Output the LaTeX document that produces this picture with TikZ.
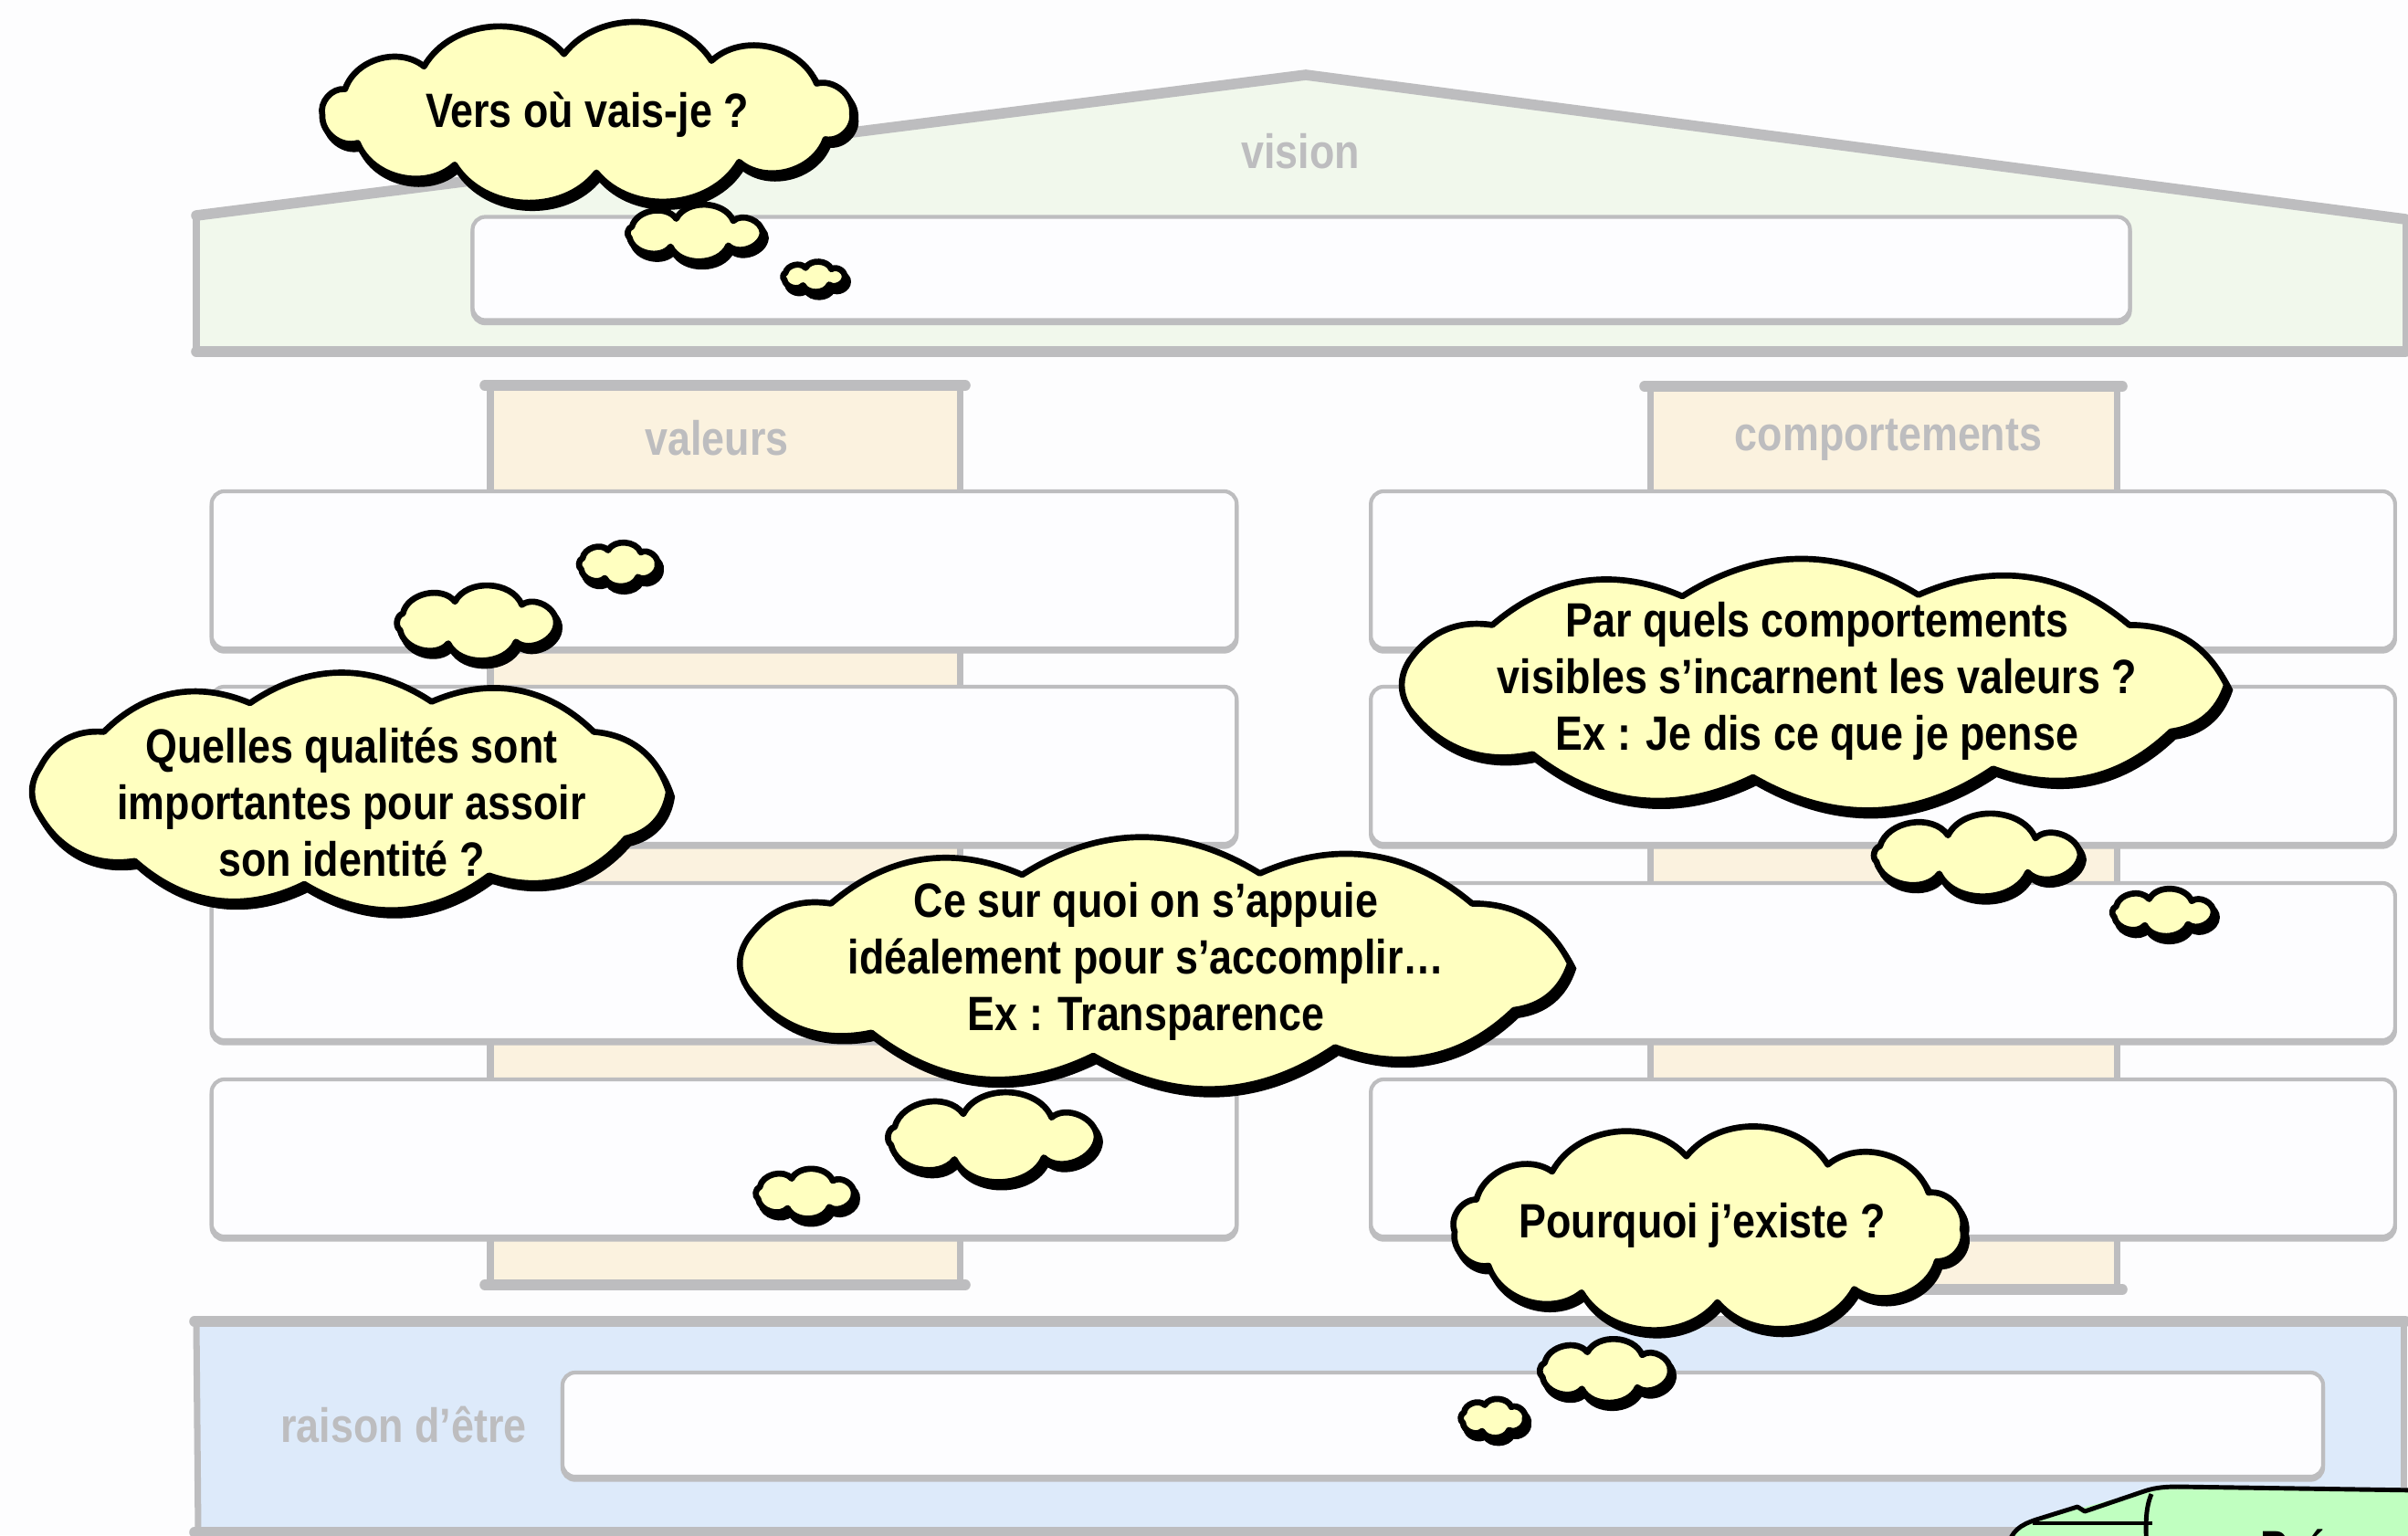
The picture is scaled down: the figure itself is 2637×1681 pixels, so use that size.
\documentclass[tikz,border=0pt]{standalone}
\usepackage{fontspec}
\setmainfont{Liberation Sans}
\newfontfamily\cloudfont{Liberation Sans Bold}[FakeStretch=0.85]
\usetikzlibrary{positioning}
\usetikzlibrary{calc}

\definecolor{paper}{HTML}{FDFDFE}
\definecolor{linegray}{HTML}{BDBDBF}
\definecolor{visiongreen}{HTML}{F1F8EC}
\definecolor{pillarbeige}{HTML}{FBF2DF}
\definecolor{raisonblue}{HTML}{DDEAFA}
\definecolor{slotwhite}{HTML}{FDFDFF}
\definecolor{cloudyellow}{HTML}{FFFFC0}
\definecolor{notegreen}{HTML}{C0FFC0}

\tikzset{
	wall/.style={draw=linegray, line width=2pt},
	beam/.style={draw=linegray, line width=3.3pt, line cap=round},
	slot/.style={draw=linegray, fill=slotwhite, line width=1.2pt, rounded corners=4pt,
		preaction={draw=linegray, line width=1.2pt, transform canvas={yshift=-1pt}}},
	tag/.style={text=linegray, font=\cloudfont\fontsize{15}{18}\selectfont},
	thought/.style={align=center, inner sep=0pt, font=\cloudfont\fontsize{15}{17.6}\selectfont},
	cloudedge/.style={draw=black, fill=cloudyellow, line width=1.9pt, line join=round,
		preaction={draw=black, fill=black, line width=1.9pt, transform canvas={shift={(1pt,-1.6pt)}}}},
	noteline/.style={draw=black, line width=1.4pt, line join=round}
}

% cloud round a centre: centre, half width, half height, bend, angles
\newcommand{\cloudshape}[5]{%
	\path[cloudedge] ($(#1)+(0:#2 and #3)$)
		\foreach \a in {#5} { to[bend right=#4] ($(#1)+(\a:#2 and #3)$) } -- cycle;
}

\begin{document}
\begin{tikzpicture}[x=0.01cm, y=-0.01cm]
			% Frame of the picture
			\useasboundingbox (0,0) rectangle (2637,1681);
			\fill[paper] (0,0) rectangle (2637,1681);
			\clip (0,0) rectangle (2637,1681);

			% Define the corners of the roof
			\coordinate (eaveL) at (215,236);
			\coordinate (ridge) at (1430,82);
			\coordinate (eaveR) at (2634,240);
			\coordinate (baseL) at (215,385);
			\coordinate (baseR) at (2634,385);

			% Draw the roof
			\fill[visiongreen] (eaveL) -- (ridge) -- (eaveR) -- (baseR) -- (baseL) -- cycle;
			\draw[wall] (eaveL) -- (baseL);
			\draw[wall] (eaveR) -- (baseR);
			\draw[beam] (eaveL) -- (ridge) -- (eaveR);
			\draw[beam] (baseL) -- (baseR);
			\node[slot, minimum width=18.14cm, minimum height=1.13cm] (visionslot) at (1425,294) {};
			\node[tag] (visiontag) at (1424,166) {vision};

			% Draw the two pillars
			\foreach \xl/\xr/\yt/\yb in {537/1051/422/1407, 1807/2318/423/1412}
			{
				\fill[pillarbeige] (\xl,\yt) rectangle (\xr,\yb);
				\draw[wall] (\xl,\yt) -- (\xl,\yb);
				\draw[wall] (\xr,\yt) -- (\xr,\yb);
				\draw[beam] (\xl-6,\yt) -- (\xr+6,\yt);
				\draw[beam] (\xl-6,\yb) -- (\xr+6,\yb);
			}
			\node[tag] (valtag) at (785,480) {valeurs};
			\node[tag] (comptag) at (2068,482) {comportements};

			% Draw the rows of the pillars
			\foreach \i/\y in {1/624, 2/838, 3/1053, 4/1268}
			{
				\node[slot, minimum width=11.22cm, minimum height=1.72cm] (val\i) at (793,\y) {};
				\node[slot, minimum width=11.21cm, minimum height=1.72cm] (comp\i) at (2062,\y) {};
			}

			% Draw the base
			\fill[raisonblue] (215,1447) rectangle (2634,1678);
			\draw[wall] (215,1447) -- (217,1678);
			\draw[wall] (2632,1447) -- (2632,1678);
			\draw[beam] (213,1447) -- (2634,1447);
			\draw[beam] (213,1678) -- (2640,1678);
			\node[slot, minimum width=19.27cm, minimum height=1.14cm] (raisonslot) at (1580,1560) {};
			\node[tag] (raisontag) at (442,1560) {raison d’être};

			% Draw the note in the corner
			\fill[notegreen] (2198,1695) .. controls (2203,1676) and (2212,1670) .. (2230,1664)
				-- (2345,1634) .. controls (2356,1630) and (2366,1628) .. (2385,1628) -- (2650,1632) -- (2650,1695) -- cycle;
			\draw[noteline] (2198,1695) .. controls (2203,1676) and (2212,1670) .. (2230,1664)
				-- (2275,1650) -- (2283,1655) -- (2345,1634) .. controls (2356,1630) and (2366,1628) .. (2385,1628) -- (2650,1632);
			\draw[noteline] (2226,1668) -- (2357,1668);
			\draw[noteline] (2356,1636) .. controls (2350,1650) and (2349,1668) .. (2351,1695);
			\node[anchor=north west, inner sep=0pt, font=\cloudfont\fontsize{15}{18}\selectfont] (notetext) at (2475,1674) {Pré};

			% Define the centres of the thought clouds
			\coordinate (versc) at (643,124);
			\coordinate (versa) at (760,255);
			\coordinate (versb) at (891,303);
			\coordinate (qualc) at (382,867);
			\coordinate (quala) at (521,682);
			\coordinate (qualb) at (677,618);
			\coordinate (compc) at (1983,750);
			\coordinate (compa) at (2163,936);
			\coordinate (compb) at (2368,999);
			\coordinate (appuic) at (1261,1055);
			\coordinate (appuia) at (1085,1245);
			\coordinate (appuib) at (881,1307);
			\coordinate (existc) at (1871,1346);
			\coordinate (exista) at (1757,1501);
			\coordinate (existb) at (1635,1553);

			% Draw the thought clouds
			\cloudshape{versc}{2.90cm}{0.65cm}{55}{30,62,95,128,156,182,210,240,272,305,334,360}
			\cloudshape{versa}{0.75cm}{0.16cm}{65}{55,105,155,200,250,300,360}
			\cloudshape{versb}{0.34cm}{0.10cm}{65}{55,105,155,200,250,300,360}
			\node[thought] (vers) at (643,126) {Vers où vais-je ?};

			\cloudshape{qualc}{3.50cm}{1.02cm}{34}{40,75,108,140,165,195,228,262,296,330,360}
			\cloudshape{quala}{0.88cm}{0.24cm}{65}{55,105,155,200,250,300,360}
			\cloudshape{qualb}{0.43cm}{0.16cm}{65}{55,105,155,200,250,300,360}
			\node[thought] (qualites) at (385,878) {Quelles qualités sont\\importantes pour assoir\\son identité ?};

			\cloudshape{compc}{4.55cm}{1.02cm}{32}{40,75,108,140,165,195,228,262,296,330,360}
			\cloudshape{compa}{1.15cm}{0.22cm}{65}{55,105,155,200,250,300,360}
			\cloudshape{compb}{0.56cm}{0.15cm}{65}{55,105,155,200,250,300,360}
			\node[thought] (comportements) at (1990,746) {Par quels comportements\\visibles s’incarnent les valeurs ?\\Ex : Je dis ce que je pense};

			\cloudshape{appuic}{4.58cm}{1.02cm}{32}{40,75,108,140,165,195,228,262,296,330,360}
			\cloudshape{appuia}{1.16cm}{0.26cm}{65}{55,105,155,200,250,300,360}
			\cloudshape{appuib}{0.54cm}{0.17cm}{65}{55,105,155,200,250,300,360}
			\node[thought] (appui) at (1255,1053) {Ce sur quoi on s’appuie\\idéalement pour s’accomplir…\\Ex : Transparence};

			\cloudshape{existc}{2.78cm}{0.80cm}{55}{30,62,95,128,156,182,210,240,272,305,334,360}
			\cloudshape{exista}{0.72cm}{0.21cm}{65}{55,105,155,200,250,300,360}
			\cloudshape{existb}{0.35cm}{0.15cm}{65}{55,105,155,200,250,300,360}
			\node[thought] (existe) at (1864,1342) {Pourquoi j’existe ?};
\end{tikzpicture}
\end{document}
